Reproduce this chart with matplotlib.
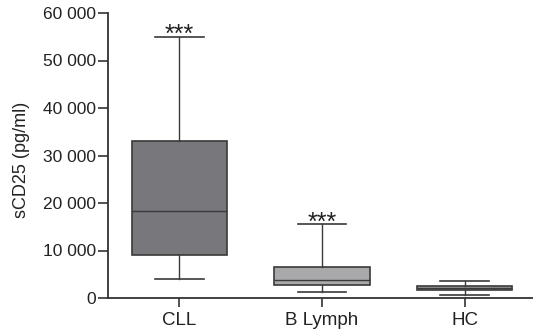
import matplotlib.pyplot as plt

plt.rcParams['font.family'] = ['Liberation Sans', 'DejaVu Sans']

# box statistics (pg/ml)
groups = ['CLL', 'B Lymph', 'HC']
whislo = [4000, 1330, 630]
q1 = [9000, 2740, 1620]
med = [18300, 3720, 2100]
q3 = [33000, 6530, 2600]
whishi = [55000, 15600, 3500]
fills = ['#78787c', '#a9a9ab', '#9a9a9c']
signif = ['***', '***', '']

yticks = [0, 10000, 20000, 30000, 40000, 50000, 60000]
ytick_labels = ['0', '10 000', '20 000', '30 000', '40 000', '50 000', '60 000']

stats = []
for i in range(len(groups)):
    stats.append({'label': groups[i], 'whislo': whislo[i], 'q1': q1[i],
                  'med': med[i], 'q3': q3[i], 'whishi': whishi[i],
                  'fliers': []})

fig = plt.figure(figsize=(5.33, 3.35), dpi=100)
ax = fig.add_axes([108 / 533, 1 - 298 / 335, 1 - 108 / 533, 285 / 335])

edge = '#3a3a3a'
bp = ax.bxp(stats, positions=[1, 2, 3], widths=0.67, patch_artist=True,
            showfliers=False,
            boxprops=dict(edgecolor=edge, linewidth=1.2),
            medianprops=dict(color=edge, linewidth=1.0),
            whiskerprops=dict(color=edge, linewidth=1.0),
            capprops=dict(color=edge, linewidth=1.2),
            capwidths=0.34)
for patch, c in zip(bp['boxes'], fills):
    patch.set_facecolor(c)

for i, s in enumerate(signif):
    if s:
        ax.annotate(s, (i + 1, whishi[i]), xytext=(0, -4),
                    textcoords='offset points', ha='center', va='baseline',
                    fontsize=18, color='#222222')

ax.set_xlim(0.50, 3.48)
ax.set_ylim(0, 60000)
ax.set_yticks(yticks)
ax.set_yticklabels(ytick_labels, fontsize=12.5, color='#222222')
ax.set_xticks([1, 2, 3])
ax.set_xticklabels(groups, fontsize=13.5, color='#222222')
fig.text(22 / 533, 1 - 160 / 335, 'sCD25 (pg/ml)', rotation=90,
         ha='center', va='center', fontsize=13, color='#222222')

for side in ['top', 'right']:
    ax.spines[side].set_visible(False)
for side in ['left', 'bottom']:
    ax.spines[side].set_linewidth(1.3)
    ax.spines[side].set_color('#333333')
ax.tick_params(axis='y', length=7, width=1.2, color='#333333', pad=1.5)
ax.tick_params(axis='x', length=6.5, width=1.2, color='#333333', pad=3.5)

fig.savefig('out.png', dpi=100)
